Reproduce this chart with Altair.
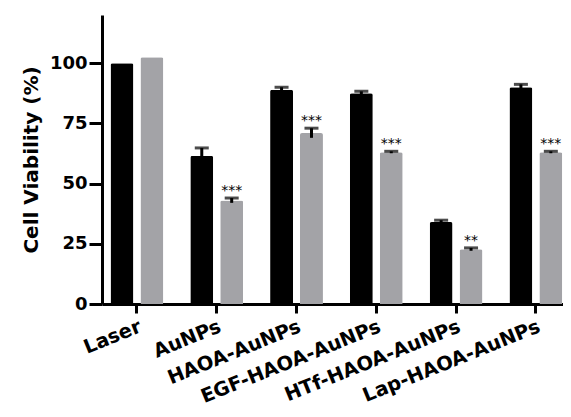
import altair as alt
import pandas as pd

categories = ["Laser", "AuNPs", "HAOA-AuNPs", "EGF-HAOA-AuNPs", "HTf-HAOA-AuNPs", "Lap-HAOA-AuNPs"]
series_names = ["Series A", "Series B"]
black_values = [100, 61.5, 89, 87.5, 34, 90]
black_err = [0, 3.3, 1.0, 0.8, 0.8, 1.2]
gray_values = [102.5, 43, 71, 63, 22.7, 63]
gray_err = [0, 1.0, 2.0, 0.4, 0.6, 0.4]
black_stars = ["", "", "", "", "", ""]
gray_stars = ["", "***", "***", "***", "**", "***"]
colors = ["#000000", "#a3a3a7"]

rows = []
for i, c in enumerate(categories):
    rows.append({"category": c, "series": series_names[0], "value": black_values[i],
                 "err": black_err[i], "star": black_stars[i]})
    rows.append({"category": c, "series": series_names[1], "value": gray_values[i],
                 "err": gray_err[i], "star": gray_stars[i]})
df = pd.DataFrame(rows)
df["lower"] = df["value"] - df["err"]
df["upper"] = df["value"] + df["err"]

FONT = "DejaVu Sans"

x_enc = alt.X(
    "category:N", sort=categories,
    scale=alt.Scale(paddingInner=0.32, paddingOuter=0.049, align=1),
    axis=alt.Axis(title=None, labelAngle=-22, labelAlign="right", labelBaseline="top",
                  labelFont=FONT, labelFontWeight="bold", labelFontSize=19.5,
                  labelLimit=0, labelOverlap=False,
                  labelPadding=4, tickSize=9, tickWidth=3, domainWidth=3,
                  labelColor="#000", tickColor="#000", domainColor="#000"),
)
xoff_enc = alt.XOffset("series:N", sort=series_names,
                       scale=alt.Scale(paddingInner=0.2333, paddingOuter=0.0233))
y_scale = alt.Scale(domain=[0, 120], nice=False)

base = alt.Chart(df)

bars = base.mark_bar(cornerRadiusTopLeft=2, cornerRadiusTopRight=2).encode(
    x=x_enc,
    xOffset=xoff_enc,
    y=alt.Y("value:Q", scale=y_scale,
            axis=alt.Axis(values=[0, 25, 50, 75, 100], title="Cell Viability (%)",
                          titleFont=FONT, titleFontWeight="bold", titleFontSize=20,
                          titlePadding=8, titleColor="#000",
                          labelFont=FONT, labelFontWeight="bold", labelFontSize=18,
                          labelPadding=2, tickSize=13, tickWidth=3, domainWidth=3,
                          labelColor="#000", tickColor="#000", domainColor="#000",
                          grid=False)),
    color=alt.Color("series:N", sort=series_names,
                    scale=alt.Scale(domain=series_names, range=colors), legend=None),
)

err_df_filter = alt.datum.err > 0

stems = base.mark_rule(strokeWidth=3, color="#000").encode(
    x=x_enc, xOffset=xoff_enc,
    y=alt.Y("lower:Q", scale=y_scale), y2="upper:Q",
).transform_filter(err_df_filter)

caps = base.mark_tick(thickness=3, size=14, color="#000").encode(
    x=x_enc, xOffset=xoff_enc,
    y=alt.Y("upper:Q", scale=y_scale),
).transform_filter(err_df_filter)

stars = base.mark_text(font=FONT, fontSize=14, color="#000", baseline="alphabetic", dy=-3).encode(
    x=x_enc, xOffset=xoff_enc,
    y=alt.Y("upper:Q", scale=y_scale),
    text="star:N",
)

chart = alt.layer(bars, stems, caps, stars).properties(
    width=461, height=289,
    autosize=alt.AutoSizeParams(type="none"),
    padding={"left": 94, "top": 7, "right": 0, "bottom": 105},
).configure_view(stroke=None).configure_axis(grid=False)

chart.save("out.html", embed_options={"renderer": "svg", "actions": False})
